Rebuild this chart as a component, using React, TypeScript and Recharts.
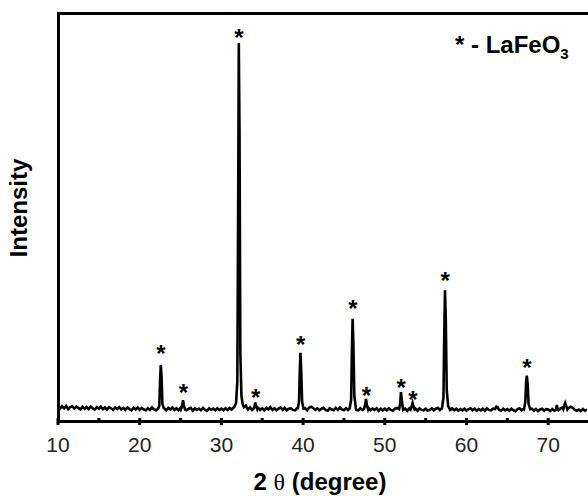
import React from "react";
import {
  ComposedChart,
  Line,
  Scatter,
  XAxis,
  YAxis,
  Customized,
} from "recharts";

const FONT = "'Liberation Sans', Arial, sans-serif";
const INK = "#000";

// background scan, one value every 0.25 deg starting at 10 deg
const SCAN_START = 10;
const SCAN_STEP = 0.25;
const background = [
  28, 23, 29, 24, 30, 22, 27, 29, 23, 28, 25, 21, 28, 23, 27, 22, 28, 24, 21, 27,
  23, 28, 22, 26, 21, 27, 24, 20, 26, 22, 27, 21, 25, 20, 26, 22, 19, 25, 21, 26,
  20, 25, 21, 19, 24, 20, 26, 21, 19, 25, 22, 20, 24, 19, 25, 21, 26, 20, 24, 19,
  25, 20, 24, 19, 23, 25, 18, 24, 20, 23, 19, 25, 20, 18, 24, 20, 23, 19, 24, 20,
  23, 19, 24, 20, 25, 21, 26, 27, 30, 35, 28, 26, 24, 21, 26, 20, 24, 21, 25, 20,
  24, 19, 25, 21, 27, 20, 24, 19, 23, 26, 20, 25, 19, 23, 24, 20, 19, 24, 21, 25,
  20, 24, 19, 26, 28, 24, 20, 24, 19, 23, 25, 20, 18, 24, 21, 19, 25, 20, 26, 21,
  19, 24, 20, 25, 21, 26, 20, 19, 24, 20, 18, 23, 25, 19, 23, 20, 24, 18, 23, 19,
  23, 19, 24, 20, 18, 23, 25, 19, 24, 20, 23, 18, 24, 20, 19, 23, 18, 24, 20, 19,
  23, 18, 20, 24, 19, 23, 25, 20, 24, 19, 23, 18, 20, 24, 19, 23, 18, 22, 19, 23,
  18, 22, 24, 19, 23, 18, 22, 19, 23, 18, 24, 20, 19, 23, 27, 24, 20, 18, 23, 19,
  22, 18, 23, 19, 17, 22, 24, 19, 23, 18, 22, 19, 23, 18, 22, 17, 21, 23, 18, 22,
  21, 17, 22, 18, 23, 19, 24, 26, 22, 19, 25, 28, 25, 20, 18, 21, 17, 22, 18, 21,
];

// reflection profiles [2theta, intensity]
const peakProfiles: [number, number][][] = [
  [[22.25, 23], [22.4, 30], [22.5, 95], [22.58, 131], [22.68, 100], [22.78, 35], [22.95, 24]],
  [[25.05, 22], [25.2, 30], [25.3, 44], [25.4, 32], [25.55, 21]],
  [[31.6, 28], [31.8, 38], [31.95, 90], [32.05, 520], [32.13, 927], [32.22, 700], [32.32, 160], [32.45, 55], [32.6, 34], [32.75, 27], [33.0, 31], [33.15, 24]],
  [[33.9, 22], [34.05, 28], [34.15, 38], [34.25, 29], [34.4, 21]],
  [[39.35, 24], [39.5, 40], [39.6, 120], [39.68, 161], [39.78, 110], [39.88, 40], [40.05, 23]],
  [[45.7, 24], [45.88, 45], [45.98, 170], [46.06, 245], [46.16, 180], [46.27, 55], [46.45, 26]],
  [[47.45, 22], [47.6, 33], [47.7, 47], [47.8, 33], [47.95, 22]],
  [[51.75, 22], [51.88, 35], [51.98, 64], [52.08, 45], [52.22, 23]],
  [[53.15, 21], [53.3, 30], [53.4, 37], [53.5, 29], [53.65, 21]],
  [[57.0, 24], [57.18, 50], [57.28, 210], [57.37, 316], [57.47, 240], [57.58, 70], [57.75, 30], [57.95, 22]],
  [[63.5, 22], [63.65, 28], [63.8, 27], [63.95, 21]],
  [[67.05, 22], [67.2, 40], [67.3, 90], [67.38, 105], [67.48, 85], [67.6, 35], [67.8, 22]],
  [[70.95, 20], [71.05, 32], [71.15, 22]],
  [[71.85, 22], [71.98, 31], [72.08, 37], [72.2, 30], [72.35, 21]],
];

// LaFeO3 markers (position of the asterisk)
const markerX = [22.6, 25.35, 32.15, 34.2, 39.7, 46.1, 47.75, 52.0, 53.45, 57.4, 67.4];
const markerY = [173, 75, 953, 64, 195, 283, 67, 88, 59, 353, 137];

const xTicks = [10, 15, 20, 25, 30, 35, 40, 45, 50, 55, 60, 65, 70];
const X_DOMAIN: [number, number] = [10, 74.75];
const Y_DOMAIN: [number, number] = [0, 1000];

// plot box (chart is 588 x 496)
const PLOT = { left: 58, top: 13.5, right: 587, bottom: 418 };

const scan = (() => {
  const pts = background
    .map((y, i) => ({ x: SCAN_START + i * SCAN_STEP, y }))
    .filter(
      (p) => !peakProfiles.some((pk) => p.x >= pk[0][0] && p.x <= pk[pk.length - 1][0])
    );
  peakProfiles.forEach((pk) => pk.forEach(([x, y]) => pts.push({ x, y })));
  return pts.sort((a, b) => a.x - b.x);
})();

const markers = markerX.map((x, i) => ({ x, y: markerY[i] }));

function Star(props: any) {
  const { cx, cy } = props;
  return (
    <text x={cx} y={cy + 13.5} textAnchor="middle" fontSize={24} fontWeight="bold" fontFamily={FONT} fill={INK}>
      *
    </text>
  );
}

function XTick(props: any) {
  const { x, y, payload } = props;
  const major = payload.value % 10 === 0;
  return (
    <g>
      <rect x={x - 1.5} y={y} width={3} height={major ? 7 : 5} fill={INK} />
      {major && (
        <text x={x} y={y + 34} textAnchor="middle" fontSize={21} fontFamily={FONT} fill="#222">
          {payload.value}
        </text>
      )}
    </g>
  );
}

function Texts() {
  return (
    <g fontFamily={FONT} fill={INK}>
      <text x={320} y={490} textAnchor="middle" fontSize={24} fontWeight="bold">
        2 <tspan fontWeight="normal" fontFamily="'Liberation Serif', serif">θ</tspan> (degree)
      </text>
      <text x={27} y={208} textAnchor="middle" fontSize={24} fontWeight="bold" transform="rotate(-90, 27, 208)">
        Intensity
      </text>
      <text x={455} y={53} fontSize={24} fontWeight="bold">
        * - LaFeO<tspan fontSize={15} dy={6}>3</tspan>
      </text>
    </g>
  );
}

export default function App() {
  const { left, top, right, bottom } = PLOT;
  return (
    <div style={{ position: "absolute", left: 0, top: 0, width: 588, height: 496, background: "#fff" }}>
      <ComposedChart
        width={588}
        height={496}
        data={scan}
        margin={{ top, right: 588 - right, bottom: 0, left: 0 }}
      >
        <XAxis
          dataKey="x"
          type="number"
          domain={X_DOMAIN}
          ticks={xTicks}
          allowDataOverflow
          height={496 - bottom}
          tickSize={0}
          tickMargin={0}
          tickLine={false}
          tick={<XTick />}
          axisLine={false}
          interval={0}
        />
        <YAxis type="number" domain={Y_DOMAIN} width={left} tick={false} tickLine={false} axisLine={false} />
        <Line dataKey="y" type="linear" stroke={INK} strokeWidth={2.6} dot={false} isAnimationActive={false} />
        <Scatter data={markers} dataKey="y" shape={<Star />} isAnimationActive={false} />
        <Customized component={<Texts />} />
      </ComposedChart>
      {/* plot frame */}
      <div
        style={{
          position: "absolute",
          left: left - 1.5,
          top: top - 1.5,
          width: right - left,
          height: bottom - top,
          borderTop: "3px solid #000",
          borderBottom: "3px solid #000",
          borderLeft: "3px solid #000",
          borderRight: "2.5px solid #000",
          pointerEvents: "none",
        }}
      />
    </div>
  );
}
